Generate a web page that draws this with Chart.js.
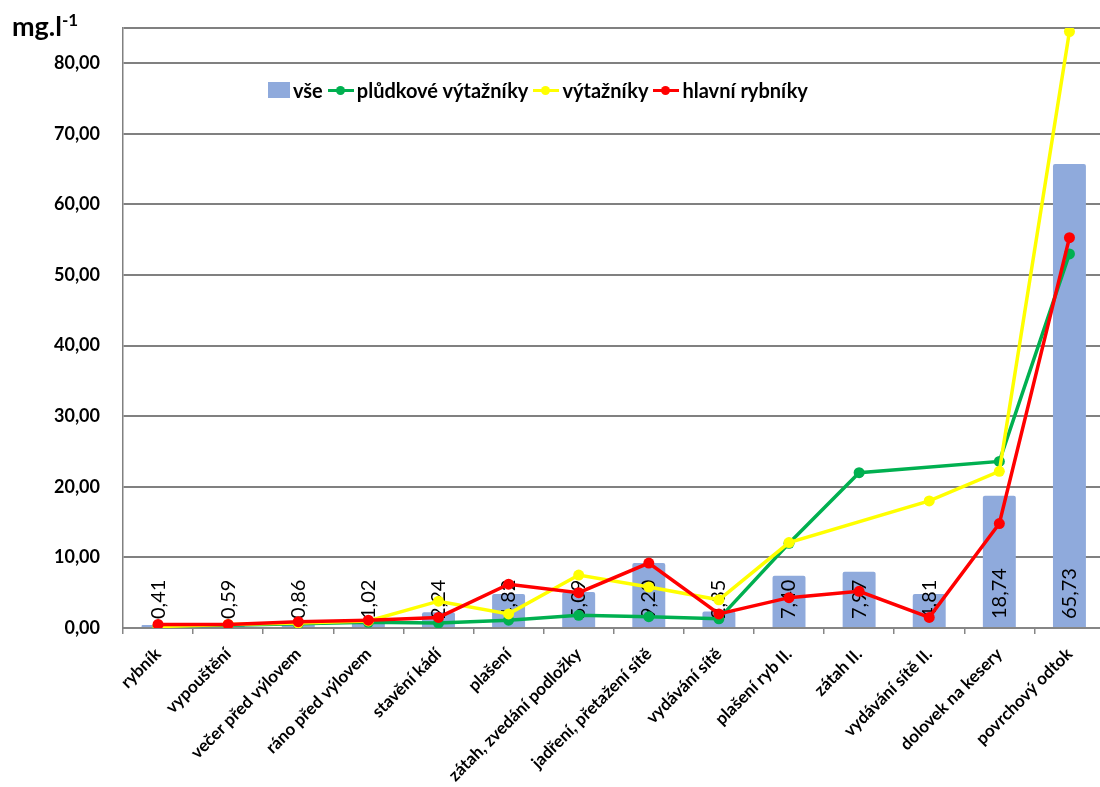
<!DOCTYPE html>
<html>
<head>
<meta charset="utf-8">
<script src="https://cdn.jsdelivr.net/npm/chart.js@4"></script>
<style>
  html, body { margin: 0; padding: 0; background: #fff; overflow: hidden; }
  #wrap { position: relative; width: 1110px; height: 787px; }
  #unit { position: absolute; left: 12px; top: 9px; font: bold 27px Lato, sans-serif; color: #000; }
  #unit sup { font-size: 17px; vertical-align: 10px; }
  #legend { position: absolute; left: 268px; top: 78px; display: flex; align-items: center;
            font: bold 20px Lato, sans-serif; color: #000; white-space: nowrap; }
  #legend .box { width: 22px; height: 16px; background: #8faadc; margin-right: 3px; }
  #legend .ln { position: relative; width: 26px; height: 16px; margin: 0 3px 0 5px; }
  #legend .ln i { position: absolute; left: 0; right: 0; top: 7px; height: 3px; }
  #legend .ln b { position: absolute; left: 8px; top: 4px; width: 9px; height: 9px; border-radius: 50%; }
</style>
</head>
<body>
<div id="wrap">
  <canvas id="chart" width="1110" height="787"></canvas>
  <div id="unit">mg.l<sup>-1</sup></div>
  <div id="legend"></div>
</div>
<script>
const categories = ['rybník', 'vypouštění', 'večer před výlovem', 'ráno před výlovem', 'stavění kádí',
  'plašení', 'zátah, zvedání podložky', 'jadření, přetažení sítě', 'vydávání sítě', 'plašení ryb II.',
  'zátah II.', 'vydávání sítě II.', 'dolovek na kesery', 'povrchový odtok'];

const vse = [0.41, 0.59, 0.86, 1.02, 2.24, 4.82, 5.09, 9.20, 2.35, 7.40, 7.97, 4.81, 18.74, 65.73];
const pludkove = [0.3, 0.4, 0.6, 0.8, 0.7, 1.1, 1.8, 1.6, 1.3, 12.0, 22.0, null, 23.6, 53.0];
const vytazniky = [0.2, 0.5, 0.7, 1.0, 3.8, 2.0, 7.5, 5.8, 4.0, 12.1, null, 18.0, 22.2, 84.5];
const hlavni = [0.5, 0.5, 0.9, 1.1, 1.5, 6.2, 5.0, 9.2, 2.0, 4.3, 5.2, 1.5, 14.8, 55.3];

const yTicks = [0, 10, 20, 30, 40, 50, 60, 70, 80];
const yMax = 85;

const fmt = v => v.toFixed(2).replace('.', ',');

// legenda
const legendItems = [
  { label: 'vše', color: '#8faadc', bar: true },
  { label: 'plůdkové výtažníky', color: '#00b050' },
  { label: 'výtažníky', color: '#ffff00' },
  { label: 'hlavní rybníky', color: '#ff0000' }
];
const legend = document.getElementById('legend');
legendItems.forEach(item => {
  if (item.bar) {
    legend.insertAdjacentHTML('beforeend', `<span class="box"></span>`);
  } else {
    legend.insertAdjacentHTML('beforeend',
      `<span class="ln"><i style="background:${item.color}"></i><b style="background:${item.color}"></b></span>`);
  }
  legend.insertAdjacentHTML('beforeend', `<span>${item.label}</span>`);
});

// popisky hodnot ve sloupcich
const barLabels = {
  id: 'barLabels',
  afterDatasetDraw(chart, args) {
    if (args.index !== 0) return;
    const ctx = chart.ctx;
    ctx.save();
    ctx.font = '20px Lato, sans-serif';
    ctx.fillStyle = '#000';
    ctx.textAlign = 'left';
    ctx.textBaseline = 'middle';
    args.meta.data.forEach((bar, i) => {
      ctx.save();
      ctx.translate(bar.x, bar.base - 8);
      ctx.rotate(-Math.PI / 2);
      ctx.fillText(fmt(vse[i]), 0, 0);
      ctx.restore();
    });
    ctx.restore();
  }
};

function lineSet(label, data, color, order) {
  return {
    type: 'line',
    label,
    data,
    borderColor: color,
    backgroundColor: color,
    borderWidth: 3.5,
    pointRadius: 5.5,
    pointHoverRadius: 5.5,
    pointBorderWidth: 0,
    spanGaps: true,
    tension: 0,
    order
  };
}

new Chart(document.getElementById('chart'), {
  data: {
    labels: categories,
    datasets: [
      {
        type: 'bar',
        label: 'vše',
        data: vse,
        backgroundColor: '#8faadc',
        borderRadius: 2,
        barPercentage: 0.47,
        categoryPercentage: 1,
        order: 3
      },
      lineSet('plůdkové výtažníky', pludkove, '#00b050', 2),
      lineSet('výtažníky', vytazniky, '#ffff00', 1),
      lineSet('hlavní rybníky', hlavni, '#ff0000', 0)
    ]
  },
  options: {
    responsive: false,
    animation: false,
    layout: { padding: { top: 28, right: 3, left: 0, bottom: 0 } },
    plugins: {
      legend: { display: false },
      tooltip: { enabled: false }
    },
    scales: {
      x: {
        offset: true,
        grid: {
          offset: true,
          drawOnChartArea: false,
          tickLength: 6,
          color: '#868686',
          lineWidth: 1.5
        },
        border: { color: '#868686', width: 2 },
        ticks: {
          color: '#000',
          font: { family: 'Lato', weight: 'bold', size: 17 },
          minRotation: 45,
          maxRotation: 45,
          autoSkip: false,
          padding: 10
        },
        afterFit(scale) { scale.height = 159; }
      },
      y: {
        min: 0,
        max: yMax,
        afterBuildTicks(scale) {
          scale.ticks = yTicks.concat([yMax]).map(v => ({ value: v }));
        },
        grid: {
          color: '#808080',
          lineWidth: 2,
          drawTicks: false
        },
        border: { color: '#808080', width: 1.5 },
        ticks: {
          color: '#000',
          font: { family: 'Lato', weight: 'bold', size: 18 },
          padding: 23,
          callback: v => (yTicks.includes(v) ? fmt(v) : '')
        },
        afterFit(scale) {
          scale.width = 123;
          scale.paddingTop = 0;
        }
      }
    }
  },
  plugins: [barLabels]
});
</script>
</body>
</html>
